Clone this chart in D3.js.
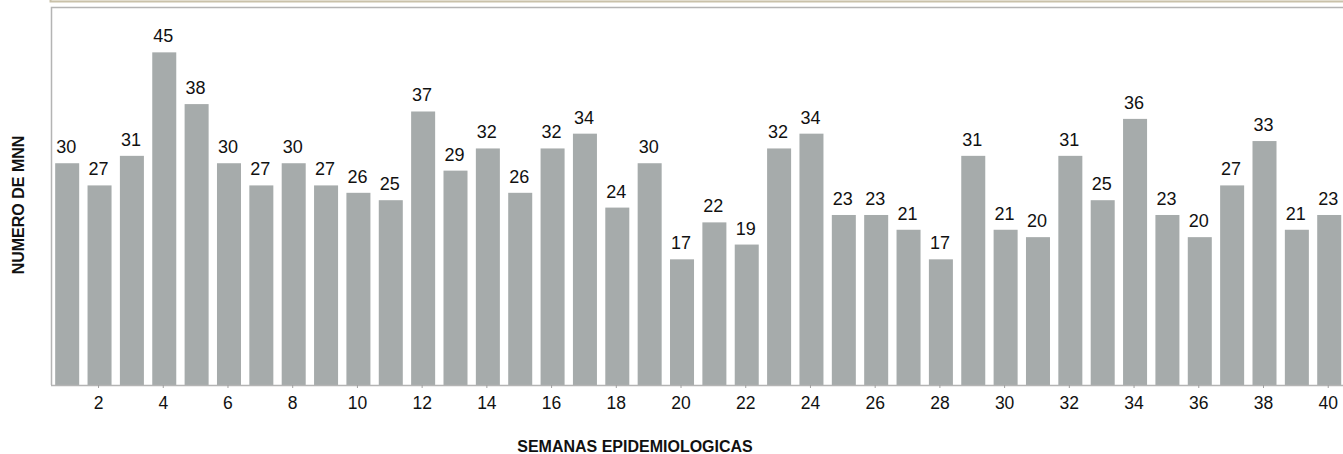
<!DOCTYPE html>
<html>
<head>
<meta charset="utf-8">
<script src="https://cdn.jsdelivr.net/npm/d3@7/dist/d3.min.js"></script>
<style>
  body { margin: 0; background: #fff; }
  svg { display: block; font-family: "Liberation Sans", Arial, sans-serif; }
</style>
</head>
<body>
<div id="plotholder"></div>
<script>
// semanas epidemiologicas 1..40
const SEMANAS = d3.range(1, 41)
const CASOS = [30, 27, 31, 45, 38, 30, 27, 30, 27, 26,
               25, 37, 29, 32, 26, 32, 34, 24, 30, 17,
               22, 19, 32, 34, 23, 23, 21, 17, 31, 21,
               20, 31, 25, 36, 23, 20, 27, 33, 21, 23]
const TICKS = d3.range(2, 41, 2)
const YTITLE = 'NUMERO DE MNN'
const XTITLE = 'SEMANAS EPIDEMIOLOGICAS'

const W = 1343, H = 454
const plot = { left: 51, top: 8, bottom: 385, step: 32.36 }

const svg = d3.select('#plotholder').append('svg')
  .attr('width', W)
  .attr('height', H)

// strip above the chart
svg.append('rect')
  .attr('x', 50.5).attr('y', -6)
  .attr('width', W).attr('height', 7.5)
  .attr('fill', '#fbfaf4')
  .attr('stroke', '#c9c1a9')
  .attr('stroke-width', 2)

const x = d3.scaleBand()
  .domain(SEMANAS)
  .range([plot.left, plot.left + plot.step * SEMANAS.length])
  .paddingInner(0.258)
  .paddingOuter(0.129)

const y = d3.scaleLinear()
  .domain([0, 51])
  .range([plot.bottom, plot.top])

// box frame (top + left)
svg.append('path')
  .attr('d', `M${plot.left + 0.5},${plot.bottom} V${plot.top - 0.5} H${W + 5}`)
  .attr('fill', 'none')
  .attr('stroke', '#b4b4b4')
  .attr('stroke-width', 1.5)

svg.selectAll('rect.bar')
  .data(SEMANAS)
  .enter()
  .append('rect')
  .attr('class', 'bar')
  .attr('x', d => x(d))
  .attr('width', x.bandwidth())
  .attr('y', (d, i) => y(CASOS[i]))
  .attr('height', (d, i) => y(0) - y(CASOS[i]))
  .attr('fill', '#a6abab')

svg.selectAll('text.val')
  .data(SEMANAS)
  .enter()
  .append('text')
  .attr('class', 'val')
  .attr('x', d => x(d) + x.bandwidth() / 2 - 1)
  .attr('y', (d, i) => y(CASOS[i]) - 10)
  .attr('text-anchor', 'middle')
  .attr('font-size', 18)
  .attr('fill', '#111')
  .text((d, i) => CASOS[i])

const xaxis = d3.axisBottom(x)
  .tickValues(TICKS)
  .tickSize(3)
  .tickPadding(8)

const gx = svg.append('g')
  .attr('transform', `translate(-1,${plot.bottom})`)
  .call(xaxis)
gx.select('.domain')
  .attr('d', `M${plot.left + 1},0.5 H${W + 5}`)
  .attr('stroke', '#b4b4b4')
  .attr('stroke-width', 1.5)
gx.selectAll('.tick line').attr('stroke', '#a0a0a0')
gx.selectAll('.tick text')
  .attr('y', 23.5)
  .attr('dy', null)
  .attr('font-size', 17.5)
  .attr('font-family', '"Liberation Sans", Arial, sans-serif')
  .attr('fill', '#111')

svg.append('text')
  .attr('x', 635)
  .attr('y', 452)
  .attr('text-anchor', 'middle')
  .attr('font-size', 16)
  .attr('font-weight', 'bold')
  .attr('fill', '#111')
  .text(XTITLE)

svg.append('text')
  .attr('transform', `translate(24,205) rotate(-90)`)
  .attr('text-anchor', 'middle')
  .attr('font-size', 16)
  .attr('font-weight', 'bold')
  .attr('fill', '#111')
  .text(YTITLE)
</script>
</body>
</html>
